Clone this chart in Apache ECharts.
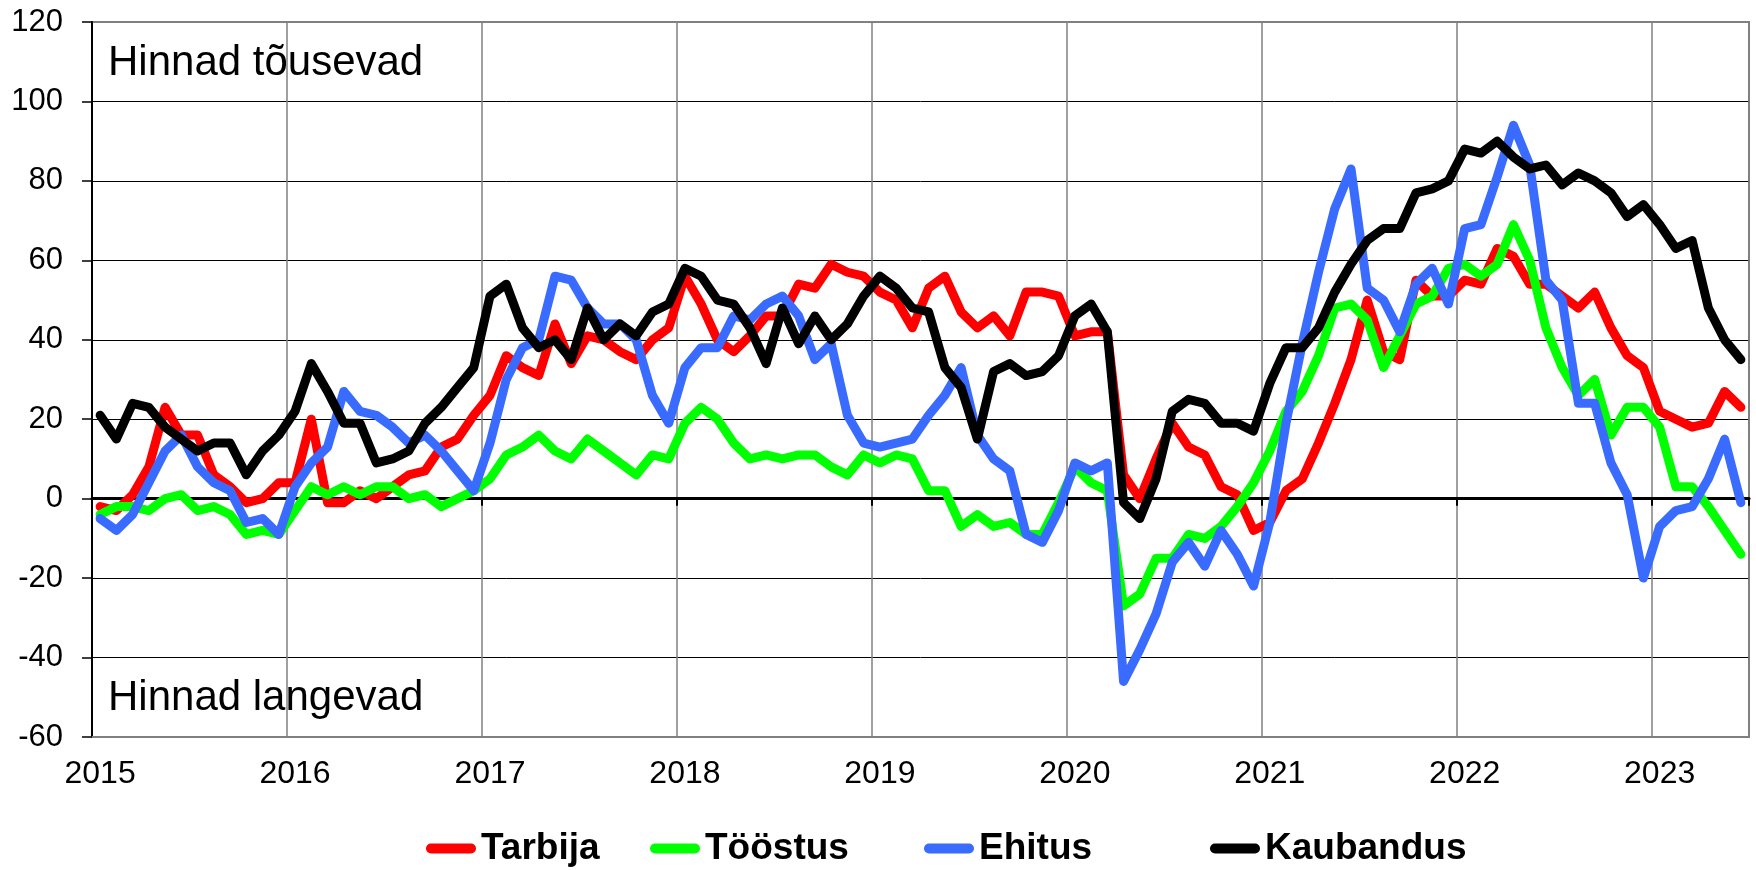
<!DOCTYPE html>
<html>
<head>
<meta charset="utf-8">
<script src="https://cdn.jsdelivr.net/npm/echarts@6/dist/echarts.min.js"></script>
<style>
html,body{margin:0;padding:0;background:#fff;}
#chart{width:1756px;height:870px;}
</style>
</head>
<body>
<div id="chart"></div>
<script>
// ---- data ----
const years = ['2015','2016','2017','2018','2019','2020','2021','2022','2023'];
const monthCount = 102; // Jan 2015 .. Jun 2023
const yTicks = [-60,-40,-20,0,20,40,60,80,100,120];
const seriesNames = ['Tarbija','Tööstus','Ehitus','Kaubandus'];

const tarbija = [
-2,-3,1,8,23,16,16,6,3,-1,0,4,
4,20,-1,-1,2,0,3,6,7,13,15,21,
26,36,33,31,44,34,41,40,37,35,40,43,
56,49,40,37,41,46,46,54,53,59,57,56,
52,50,43,53,56,47,43,46,41,52,52,51,
41,42,42,6,0,10,19,13,11,3,1,-8,
-6,2,5,14,24,35,50,37,35,55,51,51,
55,54,63,61,54,54,51,48,52,43,36,33,
22,20,18,19,27,23
];
const toostus = [
-4,-2,-2,-3,0,1,-3,-2,-4,-9,-8,-9,
-3,3,1,3,1,3,3,0,1,-2,0,2,
5,11,13,16,12,10,15,12,9,6,11,10,
19,23,20,14,10,11,10,11,11,8,6,11,
9,11,10,2,2,-7,-4,-7,-6,-9,-9,-1,
8,4,2,-27,-24,-15,-15,-9,-10,-7,-2,4,
12,22,27,36,48,49,45,33,41,49,51,58,
59,56,59,69,60,43,33,26,30,16,23,23,
18,3,3,-2,-8,-14
];
const ehitus = [
-5,-8,-4,4,12,16,8,4,2,-6,-5,-9,
3,9,13,27,22,21,18,14,16,12,7,2,
14,30,38,40,56,55,48,44,44,40,26,19,
33,38,38,46,45,49,51,46,35,39,21,14,
13,14,15,21,26,33,16,10,7,-9,-11,-3,
9,7,9,-46,-38,-29,-16,-11,-17,-8,-14,-22,
-6,19,39,57,73,83,53,50,42,54,58,49,
68,69,81,94,84,55,50,24,24,9,1,-20,
-7,-3,-2,5,15,-1
];
const kaubandus = [
21,15,24,23,18,15,12,14,14,6,12,16,
22,34,27,19,19,9,10,12,19,23,28,33,
51,54,43,38,40,35,48,40,44,41,47,49,
58,56,50,49,43,34,48,39,46,40,44,51,
56,53,48,47,33,28,15,32,34,31,32,36,
46,49,42,-1,-5,5,22,25,24,19,19,17,
29,38,38,43,52,59,65,68,68,77,78,80,
88,87,90,86,83,84,79,82,80,77,71,74,
69,63,65,48,40,35
];
const colors = ['#ff0000','#00ff00','#3a6bff','#000000'];
const annotations = ['Hinnad tõusevad','Hinnad langevad'];

// ---- categories (year-month) ----
const categories = [];
for (let i = 0; i < monthCount; i++) {
  const y = years[Math.floor(i / 12)];
  const m = (i % 12) + 1;
  categories.push(y + '-' + (m < 10 ? '0' + m : m));
}

const FONT = "'Liberation Sans', Arial, sans-serif";
const capsule = 'path://M5,0 L45,0 A5,5 0 0 1 45,10 L5,10 A5,5 0 0 1 5,0 Z';
const legendLefts = [426, 650, 924, 1210];

const chart = echarts.init(document.getElementById('chart'), null, {renderer:'canvas'});
const allData = [tarbija, toostus, ehitus, kaubandus];

chart.setOption({
  animation: false,
  backgroundColor: '#fff',
  grid: {left: 92, right: 7, top: 22, bottom: 133, show: true, borderColor: '#808080', borderWidth: 2, backgroundColor: 'transparent'},
  legend: seriesNames.map((n, i) => ({
    data: [n], left: legendLefts[i], top: 830, padding: 0,
    icon: capsule, itemWidth: 50, itemHeight: 10,
    textStyle: {fontFamily: FONT, fontWeight: 'bold', fontSize: 37, color: '#000', lineHeight: 37}
  })),
  xAxis: [
    {
      type: 'category', data: categories, boundaryGap: true, position: 'bottom',
      axisLine: {show: true, onZero: false, lineStyle: {color: '#808080', width: 2}},
      axisTick: {show: false},
      axisLabel: {interval: 11, margin: 21, fontFamily: FONT, fontSize: 32, color: '#000', lineHeight: 32,
        formatter: v => v.slice(0, 4)},
      splitLine: {show: true, interval: 11, lineStyle: {color: '#808080', width: 1.5}}
    },
    {
      type: 'category', data: categories, boundaryGap: true, position: 'bottom',
      axisLine: {show: true, onZero: true, lineStyle: {color: '#000', width: 3}},
      axisTick: {show: true, interval: 11, length: 7, lineStyle: {color: '#000', width: 2}},
      axisLabel: {show: false},
      splitLine: {show: false}
    }
  ],
  yAxis: {
    type: 'value', min: yTicks[0], max: yTicks[yTicks.length - 1], interval: 20,
    axisLine: {show: true, lineStyle: {color: '#000', width: 2}},
    axisTick: {show: true, length: 10, lineStyle: {color: '#000', width: 1.5}},
    axisLabel: {margin: 29, fontFamily: FONT, fontSize: 31, color: '#000'},
    splitLine: {show: true, showMinLine: false, showMaxLine: false, lineStyle: {color: '#000', width: 1}}
  },
  graphic: [
    {type: 'text', left: 108, top: 42, style: {text: annotations[0], font: '42px ' + FONT, fill: '#000'}},
    {type: 'text', left: 108, top: 677, style: {text: annotations[1], font: '42px ' + FONT, fill: '#000'}}
  ],
  series: seriesNames.map((n, i) => ({
    name: n, type: 'line', xAxisIndex: 0, data: allData[i],
    symbol: 'none', showSymbol: false, color: colors[i],
    lineStyle: {width: 9, color: colors[i], cap: 'round', join: 'round'},
    z: 3 + i
  }))
});
</script>
</body>
</html>
